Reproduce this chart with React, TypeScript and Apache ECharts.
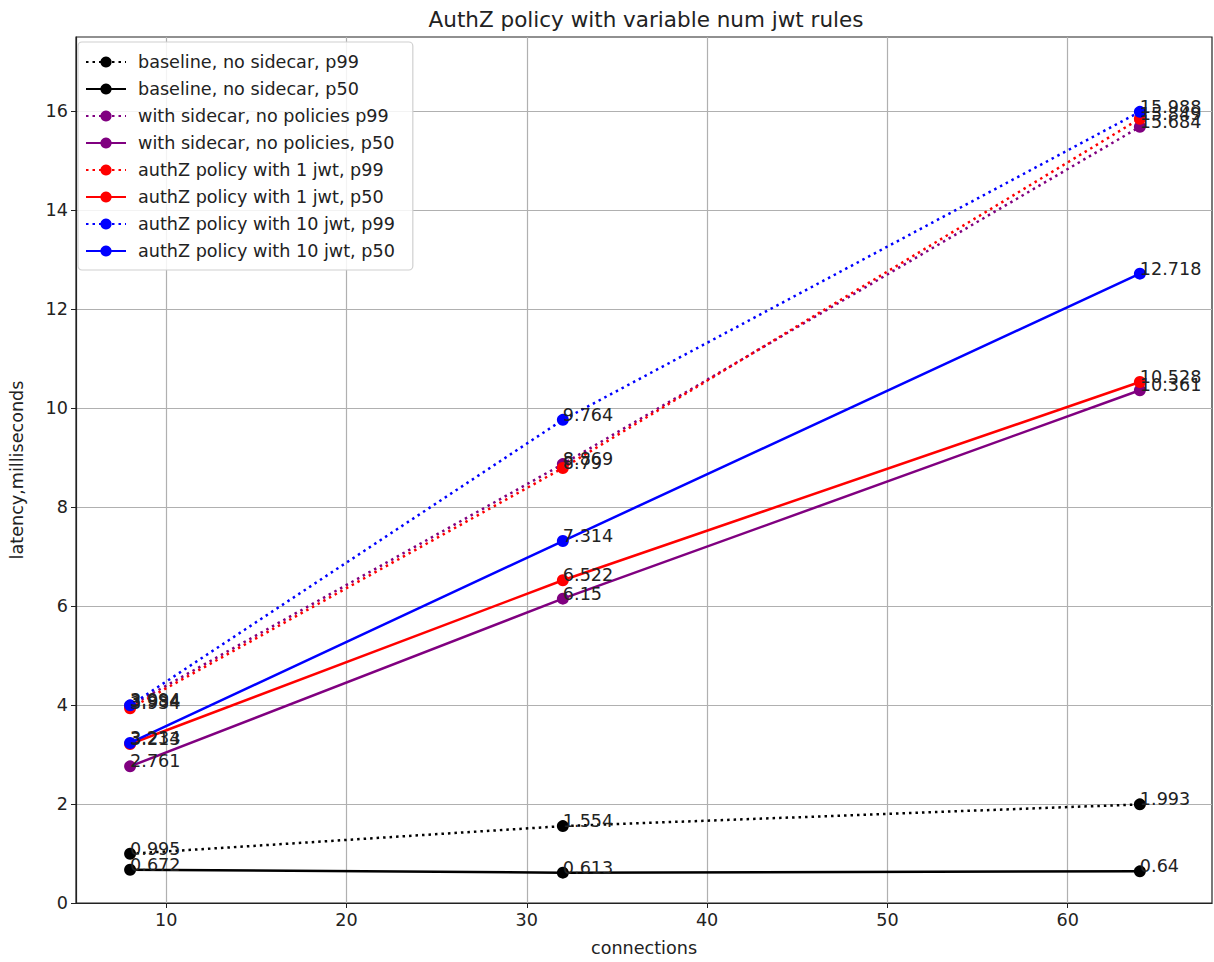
import React, { useEffect, useRef } from "react";
import * as echarts from "echarts";

const connections = [8, 32, 64];
const baselineP99 = [0.995, 1.554, 1.993];
const baselineP50 = [0.672, 0.613, 0.64];
const sidecarP99 = [3.984, 8.869, 15.684];
const sidecarP50 = [2.761, 6.15, 10.361];
const jwt1P99 = [3.934, 8.79, 15.849];
const jwt1P50 = [3.213, 6.522, 10.528];
const jwt10P99 = [3.994, 9.764, 15.988];
const jwt10P50 = [3.234, 7.314, 12.718];
const xTicks = [10, 20, 30, 40, 50, 60];
const yTicks = [0, 2, 4, 6, 8, 10, 12, 14, 16];

const seriesDefs = [
  { name: "baseline, no sidecar, p99", values: baselineP99, color: "#000000", dotted: true },
  { name: "baseline, no sidecar, p50", values: baselineP50, color: "#000000", dotted: false },
  { name: "with sidecar, no policies p99", values: sidecarP99, color: "#800080", dotted: true },
  { name: "with sidecar, no policies, p50", values: sidecarP50, color: "#800080", dotted: false },
  { name: "authZ policy with 1 jwt, p99", values: jwt1P99, color: "#ff0000", dotted: true },
  { name: "authZ policy with 1 jwt, p50", values: jwt1P50, color: "#ff0000", dotted: false },
  { name: "authZ policy with 10 jwt, p99", values: jwt10P99, color: "#0000ff", dotted: true },
  { name: "authZ policy with 10 jwt, p50", values: jwt10P50, color: "#0000ff", dotted: false },
];

const FONT = "DejaVu Sans";
const TEXT = "#222222";
const FS = 17.6;

export default function App() {
  const ref = useRef<HTMLDivElement>(null);
  useEffect(() => {
    document.body.style.margin = "0";
    const chart = echarts.init(ref.current!, null, { renderer: "svg" });
    const option: any = {
      animation: false,
      backgroundColor: "#ffffff",
      textStyle: { fontFamily: FONT },
      title: {
        text: "AuthZ policy with variable num jwt rules",
        left: 641,
        top: 3,
        textAlign: "center",
        textStyle: { fontFamily: FONT, fontSize: 21.5, fontWeight: "normal", color: TEXT },
      },
      grid: {
        left: 70,
        right: 2,
        top: 37,
        bottom: 57,
        show: true,
        borderColor: "#222",
        borderWidth: 1.2,
        backgroundColor: "transparent",
      },
      legend: {
        orient: "vertical",
        left: 78,
        top: 42,
        padding: [11, 18, 10, 7],
        itemWidth: 40,
        itemHeight: 14,
        itemGap: 9,
        backgroundColor: "rgba(255,255,255,0.85)",
        borderColor: "#d0d0d0",
        borderWidth: 1.2,
        borderRadius: 4,
        textStyle: {
          fontFamily: FONT,
          fontSize: FS,
          color: TEXT,
          padding: [0, 0, 0, 7],
          lineHeight: 14,
        },
        data: seriesDefs.map((s) => s.name),
      },
      xAxis: {
        type: "value",
        min: 5,
        max: 68,
        name: "connections",
        nameLocation: "middle",
        nameGap: 36,
        nameTextStyle: { fontFamily: FONT, fontSize: FS, color: TEXT },
        axisLine: { show: true, onZero: false, lineStyle: { color: "#222", width: 1.2 } },
        axisTick: { show: true, length: 5, customValues: xTicks, lineStyle: { color: "#222" } },
        axisLabel: {
          customValues: xTicks,
          fontFamily: FONT,
          fontSize: FS,
          color: TEXT,
          margin: 8,
        },
        splitLine: { show: true, lineStyle: { color: "#b0b0b0", width: 1.2 } },
      },
      yAxis: {
        type: "value",
        min: 0,
        max: 17.5,
        name: "latency,milliseconds",
        nameLocation: "middle",
        nameGap: 50,
        nameRotate: 90,
        nameTextStyle: { fontFamily: FONT, fontSize: FS, color: TEXT },
        axisLine: { show: true, onZero: false, lineStyle: { color: "#222", width: 1.2 } },
        axisTick: { show: true, length: 5, customValues: yTicks, lineStyle: { color: "#222" } },
        axisLabel: {
          customValues: yTicks,
          fontFamily: FONT,
          fontSize: FS,
          color: TEXT,
          margin: 8,
        },
        splitLine: { show: true, lineStyle: { color: "#b0b0b0", width: 1.2 } },
      },
      series: seriesDefs.map((s) => ({
        name: s.name,
        type: "line",
        data: connections.map((c, i) => [c, s.values[i]]),
        symbol: "circle",
        symbolSize: 12,
        color: s.color,
        itemStyle: { color: s.color },
        lineStyle: {
          color: s.color,
          width: 2.5,
          type: s.dotted ? [2.5, 4] : "solid",
        },
        label: {
          show: true,
          position: [6, 10],
          align: "left",
          verticalAlign: "bottom",
          fontFamily: FONT,
          fontSize: FS,
          color: TEXT,
          formatter: (p: any) => String(p.value[1]),
        },
        emphasis: { disabled: true },
      })),
    };
    chart.setOption(option);
    return () => chart.dispose();
  }, []);
  return <div ref={ref} style={{ width: 1214, height: 962 }} />;
}
